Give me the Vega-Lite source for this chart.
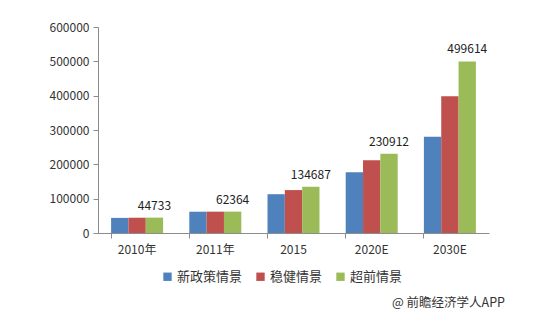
{
  "$schema": "https://vega.github.io/schema/vega-lite/v6.json",
  "width": 391,
  "height": 206,
  "autosize": {"type": "none"},
  "padding": {"left": 98, "top": 27, "right": 51, "bottom": 89},
  "background": "white",
  "config": {
    "view": {"stroke": null},
    "font": "Noto Sans CJK SC",
    "axis": {"grid": false, "domainColor": "#8c8c8c", "tickColor": "#8c8c8c", "labelColor": "#333333", "labelFontSize": 12, "titleFontSize": 12}
  },
  "title": {
    "text": "@ 前瞻经济学人APP",
    "orient": "bottom",
    "anchor": "end",
    "fontSize": 12.5,
    "fontWeight": "normal",
    "color": "#333333",
    "offset": 13,
    "dx": 16
  },
  "data": {
    "values": [
      {"year": "2010年", "scenario": "新政策情景", "value": 44000},
      {"year": "2010年", "scenario": "稳健情景", "value": 44500},
      {"year": "2010年", "scenario": "超前情景", "value": 44733},
      {"year": "2011年", "scenario": "新政策情景", "value": 62000},
      {"year": "2011年", "scenario": "稳健情景", "value": 62200},
      {"year": "2011年", "scenario": "超前情景", "value": 62364},
      {"year": "2015", "scenario": "新政策情景", "value": 113000},
      {"year": "2015", "scenario": "稳健情景", "value": 125000},
      {"year": "2015", "scenario": "超前情景", "value": 134687},
      {"year": "2020E", "scenario": "新政策情景", "value": 177000},
      {"year": "2020E", "scenario": "稳健情景", "value": 212000},
      {"year": "2020E", "scenario": "超前情景", "value": 230912},
      {"year": "2030E", "scenario": "新政策情景", "value": 280000},
      {"year": "2030E", "scenario": "稳健情景", "value": 398000},
      {"year": "2030E", "scenario": "超前情景", "value": 499614}
    ]
  },
  "encoding": {
    "x": {
      "field": "year",
      "type": "nominal",
      "sort": null,
      "scale": {"paddingInner": 0.335, "paddingOuter": 0.1675},
      "axis": {"title": null, "labelAngle": 0, "tickSize": 5, "labelPadding": 6, "bandPosition": 0}
    },
    "xOffset": {
      "field": "scenario",
      "type": "nominal",
      "sort": ["新政策情景", "稳健情景", "超前情景"],
      "scale": {"paddingInner": 0, "paddingOuter": 0}
    },
    "y": {
      "field": "value",
      "type": "quantitative",
      "scale": {"domain": [0, 600000], "nice": false},
      "axis": {"title": null, "values": [0, 100000, 200000, 300000, 400000, 500000, 600000], "format": "d", "tickSize": 5, "labelPadding": 4}
    }
  },
  "layer": [
    {
      "mark": {"type": "bar"},
      "encoding": {
        "color": {
          "field": "scenario",
          "type": "nominal",
          "sort": ["新政策情景", "稳健情景", "超前情景"],
          "scale": {"domain": ["新政策情景", "稳健情景", "超前情景"], "range": ["#4F81BD", "#C0504D", "#9BBB59"]},
          "legend": {
            "title": null,
            "orient": "none",
            "direction": "horizontal",
            "legendX": 63,
            "legendY": 243,
            "padding": 0,
            "symbolType": "square",
            "symbolSize": 70,
            "symbolStrokeWidth": 0,
            "labelFontSize": 13,
            "labelColor": "#333333",
            "labelOffset": 3,
            "columnPadding": 11
          }
        }
      }
    },
    {
      "transform": [{"filter": "datum.scenario === '超前情景'"}],
      "mark": {"type": "text", "baseline": "bottom", "dy": -5, "fontSize": 12, "color": "#222222"},
      "encoding": {"text": {"field": "value", "type": "quantitative", "format": "d"}}
    }
  ]
}
